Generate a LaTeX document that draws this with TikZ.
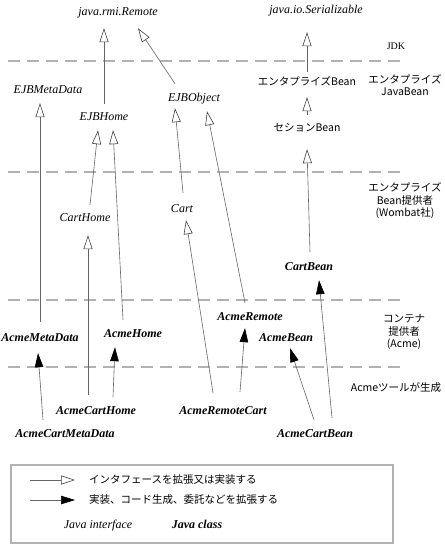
\documentclass[tikz,border=0pt]{standalone}
\usepackage{fontspec}
\setmainfont{Liberation Serif}
\newfontfamily\jpfont{Noto Sans CJK JP}
\usepackage{tikz}
\usetikzlibrary{arrows.meta,positioning}

\tikzset{
  intf/.style={font=\fontsize{12}{14}\selectfont\itshape, inner sep=1pt,
               text height=9pt, text depth=3pt},
  clss/.style={intf, font=\fontsize{12}{14}\selectfont\bfseries\itshape},
  jbean/.style={font=\jpfont\fontsize{10.5}{12}\selectfont, inner sep=1pt,
                text height=8pt, text depth=2pt},
  layer/.style={font=\jpfont\fontsize{10.5}{12.5}\selectfont, align=center},
  extends/.style={draw=black!60, line width=0.6pt,
                  -{Triangle[open, black!75, length=14pt, width=9pt]}},
  implements/.style={draw=black!60, line width=0.6pt,
                     -{Triangle[black, length=14pt, width=8.5pt]}},
  tierline/.style={draw=black!30, line width=1.5pt, dash pattern=on 12pt off 7pt}
}

\begin{document}
\begin{tikzpicture}[x=1pt, y=-1pt]
\useasboundingbox (0,0) rectangle (444,545);

\foreach \yy in {61,172,300,367}
  \draw[tierline] (8,\yy) -- (405,\yy);

% JDK
\node[intf] (remote) at (118,13) {java.rmi.Remote};
\node[intf] (serial) at (316,11) {java.io.Serializable};
\node[font=\fontsize{10}{12}\selectfont] (jdk) at (396,46) {JDK};

% enterprise JavaBean
\node[intf] (ejbmeta) at (48,91) {EJBMetaData};
\node[intf] (ejbhome) at (104,118) {EJBHome};
\node[intf] (ejbobject) at (194,99) {EJBObject};
\node[jbean] (entbean) at (307,83) {エンタプライズBean};
\node[jbean] (sessbean) at (307,129) {セションBean};
\node[layer] (ejblbl) at (405,85) {エンタプライズ\\JavaBean};

% bean provider
\node[intf] (carthome) at (85,219) {CartHome};
\node[intf] (cart) at (182,209) {Cart};
\node[clss] (cartbean) at (309,267) {CartBean};
\node[layer] (provlbl) at (405,201) {エンタプライズ\\Bean提供者\\(Wombat社)};

% container provider
\node[clss] (acmemeta) at (40,338) {AcmeMetaData};
\node[clss] (acmehome) at (133,334) {AcmeHome};
\node[clss] (acmeremote) at (250,317) {AcmeRemote};
\node[clss] (acmebean) at (286,338) {AcmeBean};
\node[layer] (contlbl) at (404,332) {コンテナ\\提供者\\(Acme)};

% generated
\node[clss] (acmecarthome) at (96,411) {AcmeCartHome};
\node[clss] (acmeremotecart) at (223,411) {AcmeRemoteCart};
\node[clss] (acmecartbean) at (315,434) {AcmeCartBean};
\node[clss] (acmecartmeta) at (65,434) {AcmeCartMetaData};
\node[layer] (genlbl) at (396,388) {Acmeツールが生成};

\draw[extends] ([yshift=7]ejbhome.north) -- ([xshift=-14,yshift=-8]remote.south);
\draw[extends] ([xshift=-19,yshift=8]ejbobject.north) -- ([xshift=20,yshift=-8]remote.south);
\draw[extends] ([yshift=9]acmemeta.north) -- ([xshift=-8,yshift=-5]ejbmeta.south);
\draw[extends] ([xshift=5,yshift=7]carthome.north) -- ([xshift=-6,yshift=-5]ejbhome.south);
\draw[extends] ([xshift=-10,yshift=7]acmehome.north) -- ([xshift=9,yshift=-5]ejbhome.south);
\draw[extends] ([xshift=1,yshift=9]cart.north) -- ([xshift=-19,yshift=-2]ejbobject.south);
\draw[extends] ([xshift=-5,yshift=7]acmeremote.north) -- ([xshift=13,yshift=-5]ejbobject.south);
\draw[extends] ([xshift=-8,yshift=9]acmecarthome.north) -- ([xshift=3,yshift=-9]carthome.south);
\draw[extends] ([xshift=-10,yshift=11]acmeremotecart.north) -- ([xshift=4,yshift=-4]cart.south);
\draw[extends] ([yshift=8]sessbean.north) -- ([yshift=-8]entbean.south);
\draw[extends] ([yshift=5]entbean.north) -- ([xshift=-9,yshift=-14]serial.south);
\draw[extends] ([xshift=1,yshift=8]cartbean.north) -- ([yshift=-14]sessbean.south);

\draw[implements] ([xshift=-22,yshift=7]acmecartmeta.north) -- ([xshift=-2,yshift=-8]acmemeta.south);
\draw[implements] ([xshift=17,yshift=7]acmecarthome.north) -- ([xshift=-18,yshift=-6]acmehome.south);
\draw[implements] ([xshift=17,yshift=12]acmeremotecart.north) -- ([xshift=-5,yshift=-4]acmeremote.south);
\draw[implements] ([xshift=-1,yshift=7]acmecartbean.north) -- ([xshift=4,yshift=-3]acmebean.south);
\draw[implements] ([xshift=17,yshift=9]acmecartbean.north) -- ([xshift=10,yshift=-6]cartbean.south);

% legend
\draw[draw=black!30, line width=1.5pt] (11,465) rectangle (393,543);
\coordinate (ext1) at (30,480);
\coordinate (ext2) at (75,480);
\coordinate (imp1) at (30,500);
\coordinate (imp2) at (75,500);
\draw[extends] (ext1) -- (ext2);
\draw[implements] (imp1) -- (imp2);
\node[jbean, anchor=west] (extlbl) at (88,480) {インタフェースを拡張又は実装する};
\node[jbean, anchor=west] (implbl) at (88,500) {実装、コード生成、委託などを拡張する};
\node[intf] (intflbl) at (98,525) {Java interface};
\node[clss] (clslbl) at (197,525) {Java class};

\end{tikzpicture}
\end{document}
